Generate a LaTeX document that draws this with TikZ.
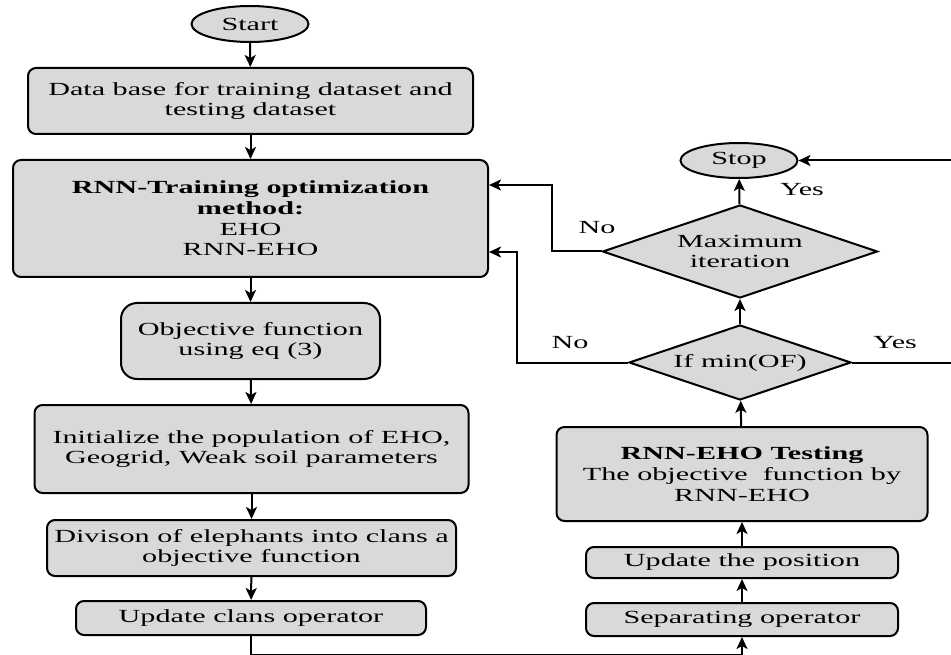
\documentclass[tikz,border=0pt]{standalone}
\usepackage{fontspec}
\setmainfont[FakeStretch=1.63]{Liberation Serif}
\usetikzlibrary{shapes.geometric,arrows.meta}
\definecolor{boxgray}{HTML}{D9D9D9}
\tikzset{
  base/.style={draw=black, line width=2pt, fill=boxgray, inner sep=0pt, align=center,
    font=\fontsize{18.5}{20.7}\selectfont},
  rbox/.style={base, rectangle, rounded corners=8pt},
  oval/.style={base, ellipse},
  decision/.style={base, diamond},
  lbl/.style={font=\fontsize{18.5}{20.7}\selectfont, inner sep=0pt},
  flow/.style={line width=2pt, -{Stealth[length=12pt,width=11pt,inset=3pt]}},
  plain/.style={line width=2pt}
}
\begin{document}
\begin{tikzpicture}[x=1pt,y=-1pt]
\useasboundingbox (0,0) rectangle (951,655);
% left column
\node[oval, minimum width=117pt, minimum height=36pt] (start) at (250,24) {Start};
\node[rbox, minimum width=445pt, minimum height=66pt] (data) at (250.5,101) {Data base for training dataset and\\testing dataset};
\node[rbox, minimum width=475pt, minimum height=117pt] (rnn) at (250.5,218.5) {\textbf{RNN-Training optimization}\\\textbf{method:}\\EHO\\RNN-EHO};
\node[rbox, rounded corners=16pt, minimum width=259pt, minimum height=76pt] (obj) at (250.5,341) {Objective function\\using eq (3)};
\node[rbox, minimum width=434pt, minimum height=88pt] (init) at (251.5,449) {Initialize the population of EHO,\\Geogrid, Weak soil parameters};
\node[rbox, minimum width=409pt, minimum height=56pt] (div) at (251.5,548) {Divison of elephants into clans a\\objective function};
\node[rbox, minimum width=350pt, minimum height=34pt] (upd) at (251,618) {Update clans operator};
% right column
\node[rbox, minimum width=312pt, minimum height=33pt] (sep) at (742,619.5) {Separating operator};
\node[rbox, minimum width=312pt, minimum height=31pt] (pos) at (742,562.5) {Update the position};
\node[rbox, minimum width=371pt, minimum height=94pt] (test) at (742,474) {\textbf{RNN-EHO Testing}\\The objective\ \ function by\\RNN-EHO};
\node[decision, aspect=2.96, minimum width=222pt, minimum height=75pt] (ifmin) at (740,362.5) {If min(OF)};
\node[decision, aspect=2.96, minimum width=275pt, minimum height=93pt] (max) at (740,251.5) {Maximum\\iteration};
\node[oval, minimum width=117pt, minimum height=35pt] (stop) at (739,160.5) {Stop};
% labels
\node[lbl] (no1) at (597,228) {No};
\node[lbl] (no2) at (570,343) {No};
\node[lbl] (yes1) at (802,190) {Yes};
\node[lbl] (yes2) at (895,343) {Yes};
% helper coordinates
\coordinate (n1) at (552,185);
\coordinate (n2) at (517,252);
\coordinate (re) at (952,0);
\coordinate (bt) at (0,654.5);
% left flow
\draw[flow] (start) -- (data);
\draw[flow] (data) -- (rnn);
\draw[flow] (rnn) -- (obj);
\draw[flow] (obj) -- (init);
\draw[flow] (init) -- (div);
\draw[flow] (div) -- (upd);
\draw[flow] (upd.south) -- (upd.south |- bt) -| (sep.south);
% right flow
\draw[flow] (sep) -- (pos);
\draw[flow] (pos) -- (test);
\draw[flow] (test) -- (ifmin);
\draw[flow] (ifmin) -- (max);
\draw[flow] (max) -- (stop);
\draw[flow] (max.west) -| (n1) -- (rnn.east |- n1);
\draw[flow] (ifmin.west) -| (n2) -- (rnn.east |- n2);
\draw[flow] (ifmin.east) -- (ifmin.east -| re) |- (stop.east);
\end{tikzpicture}
\end{document}
